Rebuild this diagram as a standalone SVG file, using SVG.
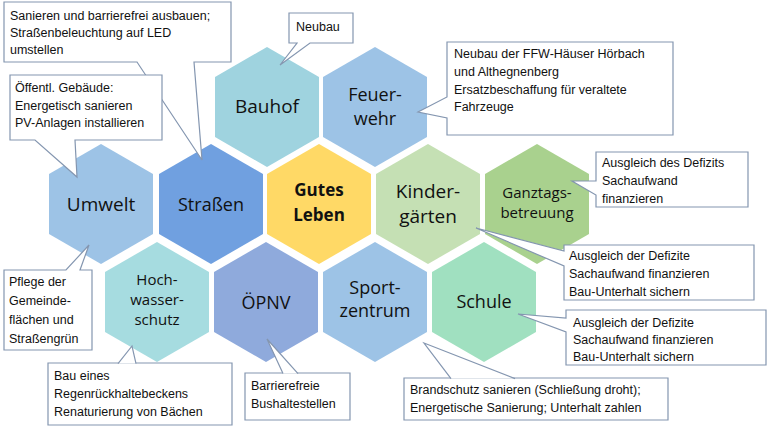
<svg xmlns="http://www.w3.org/2000/svg" width="768" height="433" viewBox="0 0 768 433">
<style>
.hx{stroke:none}
.hl{font-family:"Open Sans","Noto Sans",sans-serif;fill:#111;text-anchor:middle}
.co{fill:#fff;stroke:#8496b0;stroke-width:1.2}
.ct{font-family:"Liberation Sans","Noto Sans",sans-serif;font-size:12.5px;fill:#111}
</style>
<defs>
<polygon id="hex" points="0,-60 52,-30 52,30 0,60 -52,30 -52,-30"/>
</defs>
<rect width="768" height="433" fill="#fff"/>
<g id="n-bauhof"><use href="#hex" x="267" y="107" fill="#9fd3df"/><text class="hl" x="267" y="113" font-size="19">Bauhof</text></g>
<g id="n-feuerwehr"><use href="#hex" x="375" y="107" fill="#9dc3e6"/><text class="hl" x="375" y="101" font-size="18">Feuer-</text><text class="hl" x="375" y="125" font-size="18">wehr</text></g>
<g id="n-umwelt"><use href="#hex" x="101" y="204" fill="#9dc3e6"/><text class="hl" x="101" y="211" font-size="19">Umwelt</text></g>
<g id="n-strassen"><use href="#hex" x="211" y="204" fill="#70a0e0"/><text class="hl" x="211" y="211" font-size="18">Straßen</text></g>
<g id="n-gutes"><use href="#hex" x="319" y="204" fill="#ffd966"/><text class="hl" x="319" y="196" font-size="17" font-weight="bold">Gutes</text><text class="hl" x="319" y="221" font-size="17" font-weight="bold">Leben</text></g>
<g id="n-kinder"><use href="#hex" x="428" y="204" fill="#c5e0b4"/><text class="hl" x="428" y="198" font-size="19">Kinder-</text><text class="hl" x="428" y="223" font-size="19">gärten</text></g>
<g id="n-ganztag"><use href="#hex" x="537" y="204" fill="#a9d18e"/><text class="hl" x="537" y="198" font-size="15">Ganztags-</text><text class="hl" x="537" y="218" font-size="15">betreuung</text></g>
<g id="n-hochwasser"><use href="#hex" x="157" y="302" fill="#a6dce0"/><text class="hl" x="157" y="285" font-size="15">Hoch-</text><text class="hl" x="157" y="305" font-size="15">wasser-</text><text class="hl" x="157" y="325" font-size="15">schutz</text></g>
<g id="n-oepnv"><use href="#hex" x="266" y="302" fill="#8faadc"/><text class="hl" x="266" y="309" font-size="18">ÖPNV</text></g>
<g id="n-sport"><use href="#hex" x="375" y="302" fill="#9dc3e6"/><text class="hl" x="375" y="294" font-size="18">Sport-</text><text class="hl" x="375" y="317" font-size="18">zentrum</text></g>
<g id="n-schule"><use href="#hex" x="484" y="302" fill="#a0e0c0"/><text class="hl" x="484" y="308" font-size="18">Schule</text></g>
<g id="connectors">
<g id="c-strassen"><path class="co" d="M4,2 H231 V62 H194 L202,160 L137,62 H4 Z"/><text class="ct" x="10" y="20">Sanieren und barrierefrei ausbauen;</text><text class="ct" x="10" y="37">Straßenbeleuchtung auf LED</text><text class="ct" x="10" y="54">umstellen</text></g>
<g id="c-umwelt"><path class="co" d="M10,75 H162 V140 H75 L77,177 L35,140 H10 Z"/><text class="ct" x="15" y="92">Öffentl. Gebäude:</text><text class="ct" x="15" y="110">Energetisch sanieren</text><text class="ct" x="15" y="127">PV-Anlagen installieren</text></g>
<g id="c-bauhof"><path class="co" d="M289,13 H353 V43 H310 L280,65 L297,43 H289 Z"/><text class="ct" x="296" y="31">Neubau</text></g>
<g id="c-feuer"><path class="co" d="M447,42 H673 V135 H447 V118 L418,112 L447,97 Z"/><text class="ct" x="454" y="58">Neubau der FFW-Häuser Hörbach</text><text class="ct" x="454" y="76">und Althegnenberg</text><text class="ct" x="454" y="94">Ersatzbeschaffung für veraltete</text><text class="ct" x="454" y="111">Fahrzeuge</text></g>
<g id="c-ganztag"><path class="co" d="M596,152 H748 V207 H596 V195 L572,181 L596,181 Z"/><text class="ct" x="602" y="167">Ausgleich des Defizits</text><text class="ct" x="602" y="185">Sachaufwand</text><text class="ct" x="602" y="203">finanzieren</text></g>
<g id="c-kinder"><path class="co" d="M564,245 H754 V300 H564 V266 L476,228 L564,251 Z"/><text class="ct" x="569" y="260">Ausgleich der Defizite</text><text class="ct" x="569" y="278">Sachaufwand finanzieren</text><text class="ct" x="569" y="296">Bau-Unterhalt sichern</text></g>
<g id="c-schule"><path class="co" d="M566,310 H766 V365 H566 V332 L518,314 L566,318 Z"/><text class="ct" x="573" y="327">Ausgleich der Defizite</text><text class="ct" x="573" y="344">Sachaufwand finanzieren</text><text class="ct" x="573" y="361">Bau-Unterhalt sichern</text></g>
<g id="c-sport"><path class="co" d="M404,378 H668 V420 H404 Z"/><path class="co" d="M451,378.6 L424,343 L515,378.6" fill="none"/><text class="ct" x="410" y="394">Brandschutz sanieren (Schließung droht);</text><text class="ct" x="410" y="412">Energetische Sanierung; Unterhalt zahlen</text></g>
<g id="c-oepnv"><path class="co" d="M245,373 H350 V420 H245 Z"/><path class="co" d="M283,373.6 L267,339 L298,373.6" fill="none"/><text class="ct" x="251" y="390">Barrierefreie</text><text class="ct" x="251" y="408">Bushaltestellen</text></g>
<g id="c-hoch"><path class="co" d="M48,363 H232 V425 H48 Z"/><path class="co" d="M118,363.6 L132,346 L136,363.6" fill="none"/><text class="ct" x="54" y="380">Bau eines</text><text class="ct" x="54" y="398">Regenrückhaltebeckens</text><text class="ct" x="54" y="416">Renaturierung von Bächen</text></g>
<g id="c-pflege"><path class="co" d="M4,270 H66 L89,245 L80,270 H92 V350 H4 Z"/><text class="ct" x="9" y="286">Pflege der</text><text class="ct" x="9" y="305">Gemeinde-</text><text class="ct" x="9" y="324">flächen und</text><text class="ct" x="9" y="343">Straßengrün</text></g>
</g>
</svg>
